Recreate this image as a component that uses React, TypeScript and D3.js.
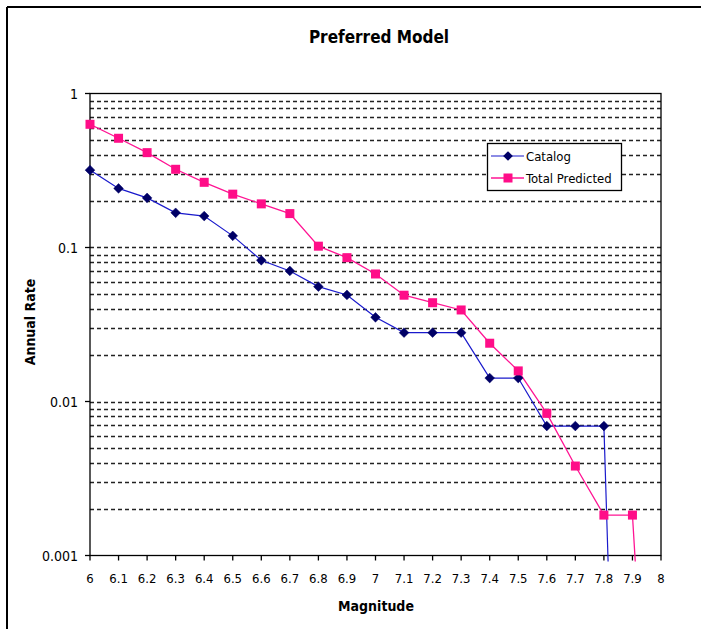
import React from 'react';
import * as d3 from 'd3';

// magnitude bins
const magnitudes = [6, 6.1, 6.2, 6.3, 6.4, 6.5, 6.6, 6.7, 6.8, 6.9, 7, 7.1, 7.2, 7.3, 7.4, 7.5, 7.6, 7.7, 7.8, 7.9, 8];

// annual rates (last points fall far below the axis)
const catalog = [0.318, 0.242, 0.21, 0.168, 0.16, 0.119, 0.0826, 0.0704, 0.0557, 0.0492, 0.0352, 0.028, 0.028, 0.028, 0.0142, 0.0142, 0.00693, 0.00693, 0.00693, 7e-9];
const totalPredicted = [0.631, 0.512, 0.413, 0.322, 0.265, 0.222, 0.192, 0.166, 0.102, 0.0859, 0.0673, 0.049, 0.0438, 0.0393, 0.0239, 0.0158, 0.00838, 0.00381, 0.00183, 0.00183, 1.6e-6];

const yTicks = [1, 0.1, 0.01, 0.001];
const yTickLabels = ['1', '0.1', '0.01', '0.001'];

const W = 701;
const H = 629;
const left = 90, right = 661, top = 93.5, bottom = 555.5;

export default function App() {
    const x = d3.scaleLinear().domain([6, 8]).range([left, right]);
    const y = d3.scaleLog().domain([0.001, 1]).range([bottom, top]);

    // minor gridlines 0.002 .. 0.9
    const grid: number[] = [];
    [0.001, 0.01, 0.1].forEach(dec => {
        for (let k = 1; k <= 9; k++) {
            const v = dec * k;
            if (v > 0.0011 && v < 0.99) grid.push(v);
        }
    });

    const catPts = catalog.map((v, i) => [magnitudes[i], v] as [number, number]);
    const totPts = totalPredicted.map((v, i) => [magnitudes[i], v] as [number, number]);

    const line = d3.line<[number, number]>()
        .x(d => x(d[0]))
        .y(d => y(d[1]));

    const diamond = d3.symbol().type(d3.symbolDiamond2).size(60)();
    const font = '"DejaVu Sans Condensed", "DejaVu Sans", sans-serif';

    return (
        <svg width={W} height={H} style={{position: 'absolute', left: 0, top: 0, background: '#fff'}}>
            {/* outer frame (top and left only visible) */}
            <line x1={7} y1={7} x2={W} y2={7} stroke="#000" strokeWidth={2} />
            <line x1={7} y1={7} x2={7} y2={H} stroke="#000" strokeWidth={2} />

            <text x={379} y={43} textAnchor="middle" fontFamily={font} fontWeight="bold" fontSize={17}>Preferred Model</text>

            <defs>
                <clipPath id="plot">
                    <rect x={left} y={top} width={right - left} height={bottom - top + 6} />
                </clipPath>
            </defs>

            {grid.map(v => (
                <line key={v} x1={left} x2={right} y1={Math.round(y(v)) + 0.5} y2={Math.round(y(v)) + 0.5}
                      stroke="#222" strokeWidth={1.3} strokeDasharray="4,3" />
            ))}

            {/* plot frame */}
            <rect x={left} y={top} width={right - left} height={bottom - top} fill="none" stroke="#000" strokeWidth={1.3} />

            {/* y ticks */}
            {yTicks.map((v, i) => (
                <g key={v}>
                    <line x1={left - 5} x2={left} y1={y(v)} y2={y(v)} stroke="#000" strokeWidth={1.3} />
                    <text x={left - 12} y={y(v) + 5} textAnchor="end" fontFamily={font} fontSize={14}>{yTickLabels[i]}</text>
                </g>
            ))}

            {/* x ticks */}
            {magnitudes.map(m => (
                <g key={m}>
                    <line x1={x(m)} x2={x(m)} y1={bottom} y2={bottom + 5} stroke="#000" strokeWidth={1.3} />
                    <text x={x(m)} y={583} textAnchor="middle" fontFamily={font} fontSize={13}>{String(m)}</text>
                </g>
            ))}

            <text x={376} y={611} textAnchor="middle" fontFamily={font} fontWeight="bold" fontSize={14}>Magnitude</text>
            <text transform="translate(35,322) rotate(-90)" textAnchor="middle" fontFamily={font} fontWeight="bold" fontSize={14}>Annual Rate</text>

            <g clipPath="url(#plot)">
                <path d={line(catPts) || ''} fill="none" stroke="#1a1acc" strokeWidth={1.2} />
                <path d={line(totPts) || ''} fill="none" stroke="#ff1493" strokeWidth={1.3} />
            </g>

            {catPts.filter(d => d[1] >= 0.001).map(d => (
                <path key={'c' + d[0]} d={diamond || ''} transform={`translate(${x(d[0])},${y(d[1])})`} fill="#000066" stroke="#000066" strokeWidth={0.5} />
            ))}
            {totPts.filter(d => d[1] >= 0.001).map(d => (
                <rect key={'t' + d[0]} x={x(d[0]) - 4.5} y={y(d[1]) - 4.5} width={9} height={9} fill="#ff0d88" />
            ))}

            {/* legend */}
            <g>
                <rect x={487.5} y={143.5} width={134} height={47} fill="#fff" stroke="#000" strokeWidth={1.3} />
                <line x1={491} x2={524} y1={156} y2={156} stroke="#1a1acc" strokeWidth={1.2} />
                <path d={diamond || ''} transform="translate(508,156)" fill="#000066" />
                <text x={526} y={160.5} fontFamily={font} fontSize={13}>Catalog</text>
                <line x1={491} x2={524} y1={178} y2={178} stroke="#ff1493" strokeWidth={1.3} />
                <rect x={503.5} y={173.5} width={9} height={9} fill="#ff0d88" />
                <text x={526} y={182.5} fontFamily={font} fontSize={13}>Total Predicted</text>
            </g>
        </svg>
    );
}
